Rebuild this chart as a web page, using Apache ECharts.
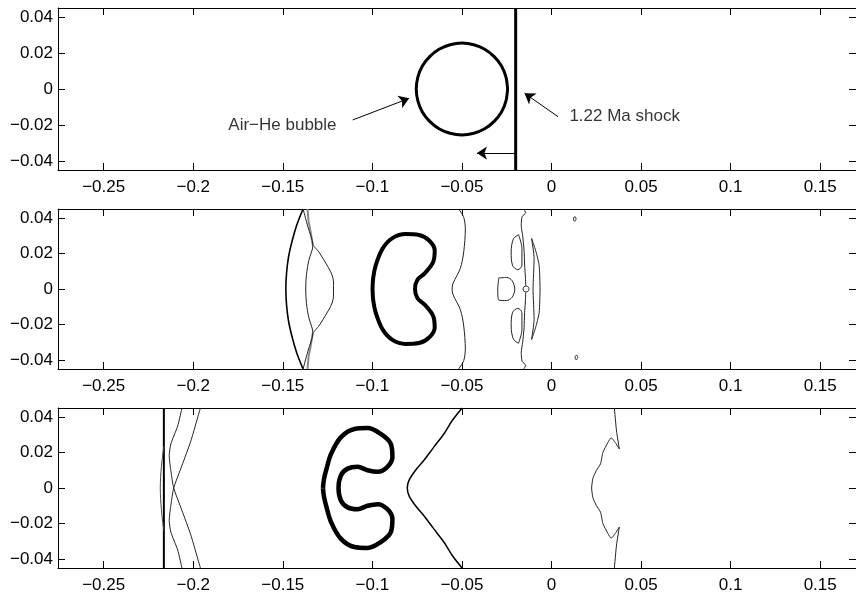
<!DOCTYPE html>
<html><head><meta charset="utf-8">
<script src="https://cdn.jsdelivr.net/npm/echarts@6/dist/echarts.min.js"></script>
<style>html,body{margin:0;padding:0;background:#fff}#c{width:856px;height:595px}</style>
</head><body><div id="c"></div>
<script>
// ---- tick data ----
const xTicks = [-0.25,-0.2,-0.15,-0.1,-0.05,0,0.05,0.1,0.15];
const xTickLabels = ['\u22120.25','\u22120.2','\u22120.15','\u22120.1','\u22120.05','0','0.05','0.1','0.15'];
const yTicks = [-0.04,-0.02,0,0.02,0.04];
const yTickLabels = ['\u22120.04','\u22120.02','0','0.02','0.04'];

// ---- panel 1 ----
const p1Bubble = [[-0.0245,0],[-0.0254,0.0066],[-0.0279,0.0128],[-0.0320,0.0180],[-0.0373,0.0221],[-0.0434,0.0246],[-0.0500,0.0255],[-0.0566,0.0246],[-0.0628,0.0221],[-0.0680,0.0180],[-0.0721,0.0128],[-0.0746,0.0066],[-0.0755,0],[-0.0746,-0.0066],[-0.0721,-0.0128],[-0.0680,-0.0180],[-0.0628,-0.0221],[-0.0566,-0.0246],[-0.0500,-0.0255],[-0.0434,-0.0246],[-0.0373,-0.0221],[-0.0320,-0.0180],[-0.0279,-0.0128],[-0.0254,-0.0066],[-0.0245,0]];
const p1Shock = [[-0.02,-0.045],[-0.02,0.045]];
const annTexts = ['Air\u2212He bubble','1.22 Ma shock'];
const annPos = [[-0.1804,-0.0200],[0.0100,-0.0154]];
const arrowFrom = [[-0.1110,-0.0172],[0.0037,-0.0154],[-0.0200,-0.0356]];
const arrowTo = [[-0.0795,-0.0052],[-0.0150,-0.0024],[-0.0416,-0.0356]];

// ---- panel 2 ----
const p2LeadArc = [[-0.1387,0.045],[-0.1422,0.036],[-0.1448,0.027],[-0.1468,0.018],[-0.1479,0.009],[-0.1483,0],[-0.1479,-0.009],[-0.1468,-0.018],[-0.1448,-0.027],[-0.1422,-0.036],[-0.1387,-0.045]];
const p2LensRight = [[-0.1387,0.045],[-0.1360,0.035],[-0.1332,0.0246],[-0.1355,0.016],[-0.1368,0.008],[-0.1372,0],[-0.1368,-0.008],[-0.1355,-0.016],[-0.1332,-0.0246],[-0.1360,-0.035],[-0.1387,-0.045]];
const p2Bump = [[-0.1332,0.0246],[-0.1300,0.0210],[-0.1276,0.0172],[-0.1245,0.0120],[-0.1225,0.0079],[-0.1217,0.004],[-0.1217,-0.004],[-0.1225,-0.0079],[-0.1245,-0.0120],[-0.1276,-0.0172],[-0.1300,-0.0210],[-0.1332,-0.0246]];
const p2GrayUpper = [[-0.1362,0.045],[-0.1356,0.038],[-0.1346,0.033],[-0.1338,0.028],[-0.1332,0.0246]];
const p2GrayLower = [[-0.1362,-0.045],[-0.1356,-0.038],[-0.1346,-0.033],[-0.1338,-0.028],[-0.1332,-0.0246]];
const p2Kidney = [[-0.0999,0],[-0.0995,0.0065],[-0.0981,0.0134],[-0.0943,0.0227],[-0.0888,0.0286],[-0.0814,0.0309],[-0.0740,0.0304],[-0.0683,0.0273],[-0.0652,0.0218],[-0.0660,0.0153],[-0.0708,0.0088],[-0.0749,0.0051],[-0.0762,0],[-0.0749,-0.0051],[-0.0708,-0.0088],[-0.0660,-0.0153],[-0.0652,-0.0218],[-0.0683,-0.0273],[-0.0740,-0.0304],[-0.0814,-0.0309],[-0.0888,-0.0286],[-0.0943,-0.0227],[-0.0981,-0.0134],[-0.0995,-0.0065],[-0.0999,0]];
const p2Wave = [[-0.0518,0.045],[-0.0490,0.0403],[-0.0481,0.0338],[-0.0490,0.0208],[-0.0509,0.0116],[-0.0549,0.0033],[-0.0555,0],[-0.0549,-0.0033],[-0.0509,-0.0116],[-0.0490,-0.0208],[-0.0481,-0.0338],[-0.0490,-0.0403],[-0.0518,-0.045]];
const p2WireUpper = [[-0.0155,0.045],[-0.0144,0.0429],[-0.0164,0.0407],[-0.0169,0.0357],[-0.0161,0.0301],[-0.0153,0.0218],[-0.0150,0.0134],[-0.0146,0.0073],[-0.0144,0.0019]];
const p2WireLower = [[-0.0155,-0.045],[-0.0144,-0.0429],[-0.0164,-0.0407],[-0.0169,-0.0357],[-0.0161,-0.0301],[-0.0153,-0.0218],[-0.0150,-0.0134],[-0.0146,-0.0073],[-0.0144,-0.0019]];
const p2OvalUpper = [[-0.0184,0.0305],[-0.0165,0.0227],[-0.0165,0.0134],[-0.0188,0.0109],[-0.0218,0.0134],[-0.0225,0.0208],[-0.0212,0.0283],[-0.0184,0.0305]];
const p2OvalLower = [[-0.0184,-0.0305],[-0.0165,-0.0227],[-0.0165,-0.0134],[-0.0188,-0.0109],[-0.0218,-0.0134],[-0.0225,-0.0208],[-0.0212,-0.0283],[-0.0184,-0.0305]];
const p2DShape = [[-0.0294,0.0062],[-0.0250,0.0065],[-0.0219,0.0046],[-0.0205,0],[-0.0219,-0.0046],[-0.0250,-0.0065],[-0.0294,-0.0062],[-0.0300,0],[-0.0294,0.0062]];
const p2SmallCircle = [[-0.0125,0],[-0.0130,0.0012],[-0.0142,0.0017],[-0.0154,0.0012],[-0.0159,0],[-0.0154,-0.0012],[-0.0142,-0.0017],[-0.0130,-0.0012],[-0.0125,0]];
const p2Crescent = [[-0.0111,0.0284],[-0.0089,0.0218],[-0.0069,0.0134],[-0.0064,0],[-0.0069,-0.0134],[-0.0089,-0.0218],[-0.0111,-0.0284],[-0.0097,-0.0171],[-0.0103,0],[-0.0097,0.0173],[-0.0111,0.0284]];
const p2TinyTop = [[0.0137,0.0394],[0.0133,0.0406],[0.0126,0.0404],[0.0123,0.0394],[0.0127,0.0382],[0.0134,0.0384],[0.0137,0.0394]];
const p2TinyBottom = [[0.0146,-0.0385],[0.0142,-0.0373],[0.0135,-0.0375],[0.0132,-0.0385],[0.0136,-0.0397],[0.0143,-0.0395],[0.0146,-0.0385]];

// ---- panel 3 ----
const p3Shock = [[-0.2164,-0.045],[-0.2164,0.045]];
const p3Lens = [[-0.2164,0.0237],[-0.2178,0.012],[-0.2184,0],[-0.2178,-0.012],[-0.2164,-0.0242]];
const p3CrossA = [[-0.2063,0.045],[-0.2087,0.0348],[-0.2125,0.0248],[-0.2134,0.0182],[-0.2125,0.0098],[-0.2109,0],[-0.2064,-0.0124],[-0.2014,-0.0263],[-0.1960,-0.045]];
const p3CrossB = [[-0.1960,0.045],[-0.2014,0.0263],[-0.2064,0.0124],[-0.2109,0],[-0.2125,-0.0098],[-0.2134,-0.0182],[-0.2125,-0.0248],[-0.2087,-0.0348],[-0.2063,-0.045]];
const p3Kidney = [[-0.1276,0],[-0.1270,0.0050],[-0.1258,0.0100],[-0.1230,0.0193],[-0.1175,0.0286],[-0.1100,0.0332],[-0.1027,0.0337],[-0.0953,0.0304],[-0.0897,0.0248],[-0.0888,0.0174],[-0.0916,0.0119],[-0.0971,0.0091],[-0.1027,0.0100],[-0.1082,0.0119],[-0.1138,0.0109],[-0.1175,0.0072],[-0.1189,0],[-0.1175,-0.0072],[-0.1138,-0.0109],[-0.1082,-0.0119],[-0.1027,-0.0100],[-0.0971,-0.0091],[-0.0916,-0.0119],[-0.0888,-0.0174],[-0.0897,-0.0248],[-0.0953,-0.0304],[-0.1027,-0.0337],[-0.1100,-0.0332],[-0.1175,-0.0286],[-0.1230,-0.0193],[-0.1258,-0.0100],[-0.1270,-0.0050],[-0.1276,0]];
const p3Bow = [[-0.0499,0.045],[-0.0555,0.0378],[-0.0601,0.0304],[-0.0657,0.0230],[-0.0712,0.0156],[-0.0759,0.0100],[-0.0795,0.0044],[-0.0805,0],[-0.0795,-0.0044],[-0.0759,-0.0100],[-0.0712,-0.0156],[-0.0657,-0.0230],[-0.0601,-0.0304],[-0.0555,-0.0378],[-0.0499,-0.045]];
const p3Front = [[0.0351,0.045],[0.0363,0.0321],[0.0379,0.0219],[0.0361,0.0248],[0.0333,0.0283],[0.0315,0.0256],[0.0287,0.0200],[0.0274,0.0136],[0.0250,0.0098],[0.0231,0.0054],[0.0224,0],[0.0231,-0.0054],[0.0250,-0.0098],[0.0274,-0.0136],[0.0287,-0.0200],[0.0315,-0.0256],[0.0333,-0.0283],[0.0361,-0.0248],[0.0379,-0.0219],[0.0363,-0.0321],[0.0351,-0.045]];

// ---- layout ----
const FONT = 'Liberation Sans';
const FS = 17;
const X_MIN = -0.2755, X_MAX = 0.17, Y_MIN = -0.045, Y_MAX = 0.045;
const grids = [
  {left:58, top:8, width:803, height:162},
  {left:58, top:209, width:803, height:160},
  {left:58, top:408, width:803, height:160}
];
function lab(ticks, labels){ return v => { const i = ticks.findIndex(t => Math.abs(t - v) < 1e-9); return i >= 0 ? labels[i] : ''; }; }
const xAxes = [], yAxes = [];
for (let g = 0; g < 3; g++) {
  xAxes.push({type:'value', gridIndex:g, min:X_MIN, max:X_MAX, position:'bottom',
    axisLine:{show:true, onZero:false, lineStyle:{color:'#000', width:1}},
    axisTick:{show:true, inside:true, length:7, customValues:xTicks, lineStyle:{color:'#000'}},
    axisLabel:{show:true, customValues:xTicks, formatter:lab(xTicks, xTickLabels), color:'#000', fontSize:FS, fontFamily:FONT, margin:9},
    splitLine:{show:false}});
}
for (let g = 0; g < 3; g++) {
  xAxes.push({type:'value', gridIndex:g, min:X_MIN, max:X_MAX, position:'top',
    axisLine:{show:true, onZero:false, lineStyle:{color:'#000', width:1}},
    axisTick:{show:true, inside:true, length:7, customValues:xTicks, lineStyle:{color:'#000'}},
    axisLabel:{show:false}, splitLine:{show:false}});
}
for (let g = 0; g < 3; g++) {
  yAxes.push({type:'value', gridIndex:g, min:Y_MIN, max:Y_MAX, position:'left',
    axisLine:{show:true, onZero:false, lineStyle:{color:'#000', width:1}},
    axisTick:{show:true, inside:true, length:7, customValues:yTicks, lineStyle:{color:'#000'}},
    axisLabel:{show:true, customValues:yTicks, formatter:lab(yTicks, yTickLabels), color:'#000', fontSize:FS, fontFamily:FONT, margin:5},
    splitLine:{show:false}});
}
for (let g = 0; g < 3; g++) {
  yAxes.push({type:'value', gridIndex:g, min:Y_MIN, max:Y_MAX, position:'right',
    axisLine:{show:true, onZero:false, lineStyle:{color:'#000', width:1}},
    axisTick:{show:true, inside:true, length:7, customValues:yTicks, lineStyle:{color:'#000'}},
    axisLabel:{show:false}, splitLine:{show:false}});
}

function ln(data, p, width, color, smooth, extra) {
  return Object.assign({type:'line', xAxisIndex:p, yAxisIndex:p, data:data, showSymbol:false, symbol:'none',
    smooth:smooth || false, silent:true, lineStyle:{color:color || '#000', width:width}}, extra || {});
}

const series = [
  ln(p1Bubble, 0, 3, '#000', 0.3),
  ln(p1Shock, 0, 3, '#000', false, {
    markLine:{silent:true, symbol:['none','arrow'], symbolSize:10, label:{show:false},
      lineStyle:{color:'#000', width:1, type:'solid'}, itemStyle:{color:'#000'}, emphasis:{disabled:true},
      data: arrowFrom.map((f, i) => [{coord:f}, {coord:arrowTo[i]}])}
  }),
  {type:'scatter', xAxisIndex:0, yAxisIndex:0, symbolSize:0, silent:true,
    data: annPos.map((p, i) => ({value:p, name:annTexts[i]})),
    label:{show:true, position:'right', distance:0, formatter:'{b}', color:'#000', fontSize:FS, fontFamily:FONT}},
  // panel 2
  ln(p2GrayUpper, 1, 2, '#888'),
  ln(p2GrayLower, 1, 2, '#888'),
  ln(p2LeadArc, 1, 1.6, '#000', 0.3),
  ln(p2LensRight, 1, 1, '#222', 0.3),
  ln(p2Bump, 1, 1, '#222', 0.3),
  ln(p2Kidney, 1, 4, '#000', 0.35),
  ln(p2Wave, 1, 1, '#222', 0.3),
  ln(p2WireUpper, 1, 1, '#222', 0.2),
  ln(p2WireLower, 1, 1, '#222', 0.2),
  ln(p2OvalUpper, 1, 1, '#222', 0.35),
  ln(p2OvalLower, 1, 1, '#222', 0.35),
  ln(p2DShape, 1, 1, '#222', 0.3),
  ln(p2SmallCircle, 1, 1, '#222', 0.3),
  ln(p2Crescent, 1, 1, '#222', 0.2),
  ln(p2TinyTop, 1, 1, '#222', 0.3),
  ln(p2TinyBottom, 1, 1, '#222', 0.3),
  // panel 3
  ln(p3Shock, 2, 2, '#000'),
  ln(p3Lens, 2, 1, '#444', 0.3),
  ln(p3CrossA, 2, 1, '#222', 0.2),
  ln(p3CrossB, 2, 1, '#222', 0.2),
  ln(p3Kidney, 2, 4.5, '#000', 0.35),
  ln(p3Bow, 2, 1.5, '#000', 0.3),
  ln(p3Front, 2, 1, '#222', 0.15)
];

const chart = echarts.init(document.getElementById('c'), null, {renderer:'canvas'});
chart.setOption({
  animation:false,
  backgroundColor:'#fff',
  grid:grids,
  xAxis:xAxes,
  yAxis:yAxes,
  series:series
});
</script></body></html>
